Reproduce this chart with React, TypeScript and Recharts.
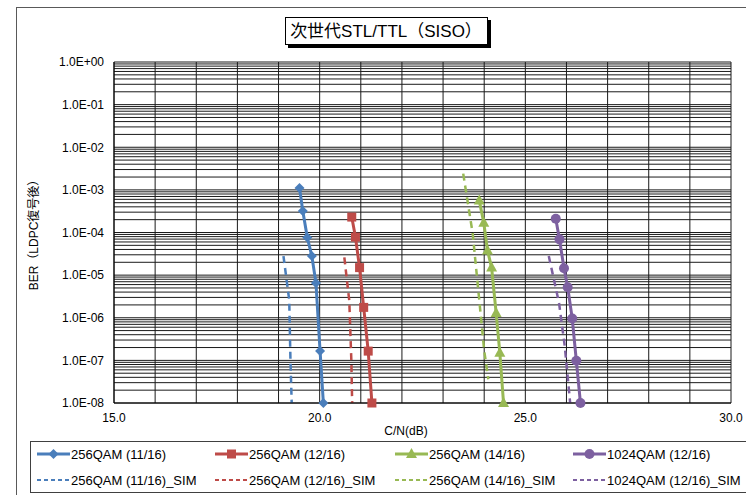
import React from 'react'
import { LineChart, Line, XAxis, YAxis, CartesianGrid } from 'recharts'

const FONT = '"Liberation Sans", Arial, "Noto Sans CJK JP", sans-serif'

// C/N (dB) and BER values per series
const qam256_11_cn = [19.51, 19.59, 19.70, 19.81, 19.91, 20.01, 20.09]
const qam256_11_ber = [1.1e-3, 3.2e-4, 7.6e-5, 2.8e-5, 6.5e-6, 1.65e-7, 1e-8]
const qam256_12_cn = [20.78, 20.87, 20.97, 21.07, 21.18, 21.27]
const qam256_12_ber = [2.3e-4, 7.8e-5, 1.5e-5, 1.75e-6, 1.65e-7, 1e-8]
const qam256_14_cn = [23.88, 23.99, 24.08, 24.18, 24.29, 24.38, 24.47]
const qam256_14_ber = [5.6e-4, 1.7e-4, 3.8e-5, 1.5e-5, 1.3e-6, 1.5e-7, 1e-8]
const qam1024_12_cn = [25.74, 25.83, 25.94, 26.03, 26.14, 26.24, 26.34]
const qam1024_12_ber = [2.1e-4, 6.9e-5, 1.45e-5, 5.2e-6, 9.6e-7, 9.8e-8, 1e-8]

const qam256_11_sim_cn = [19.12, 19.26, 19.29, 19.32]
const qam256_11_sim_ber = [2.8e-5, 2.6e-6, 1e-7, 1e-8]
const qam256_12_sim_cn = [20.60, 20.72, 20.77, 20.79]
const qam256_12_sim_ber = [2.6e-5, 2.5e-6, 1e-7, 1e-8]
const qam256_14_sim_cn = [23.49, 23.72, 23.88, 24.00, 24.10]
const qam256_14_sim_ber = [2.4e-3, 9.5e-5, 2.6e-6, 1.7e-7, 3.6e-8]
const qam1024_12_sim_cn = [25.57, 25.82, 25.96, 26.09]
const qam1024_12_sim_ber = [2.8e-5, 2.2e-6, 2.1e-7, 1e-8]

const xTicks = [15, 16, 17, 18, 19, 20, 21, 22, 23, 24, 25, 26, 27, 28, 29, 30]
const yExponents = [-8, -7, -6, -5, -4, -3, -2, -1, 0]
const yMinorSteps = [2, 3, 4, 5, 6, 7, 8, 9]

const yTicks: number[] = []
yExponents.forEach(e => {
    yTicks.push(Math.pow(10, e))
    if (e < 0) yMinorSteps.forEach(m => yTicks.push(m * Math.pow(10, e)))
})

const BLUE = '#4a7ebb'
const RED = '#be4b48'
const GREEN = '#98b954'
const PURPLE = '#7d60a0'

type Shape = 'diamond' | 'square' | 'triangle' | 'circle'

const series = [
    { name: '256QAM (11/16)', cn: qam256_11_cn, ber: qam256_11_ber, color: BLUE, shape: 'diamond' as Shape, dashed: false },
    { name: '256QAM (12/16)', cn: qam256_12_cn, ber: qam256_12_ber, color: RED, shape: 'square' as Shape, dashed: false },
    { name: '256QAM (14/16)', cn: qam256_14_cn, ber: qam256_14_ber, color: GREEN, shape: 'triangle' as Shape, dashed: false },
    { name: '1024QAM (12/16)', cn: qam1024_12_cn, ber: qam1024_12_ber, color: PURPLE, shape: 'circle' as Shape, dashed: false },
    { name: '256QAM (11/16)_SIM', cn: qam256_11_sim_cn, ber: qam256_11_sim_ber, color: BLUE, shape: null, dashed: true },
    { name: '256QAM (12/16)_SIM', cn: qam256_12_sim_cn, ber: qam256_12_sim_ber, color: RED, shape: null, dashed: true },
    { name: '256QAM (14/16)_SIM', cn: qam256_14_sim_cn, ber: qam256_14_sim_ber, color: GREEN, shape: null, dashed: true },
    { name: '1024QAM (12/16)_SIM', cn: qam1024_12_sim_cn, ber: qam1024_12_sim_ber, color: PURPLE, shape: null, dashed: true },
]

const Marker = ({ shape, cx, cy, color }: { shape: Shape, cx: number, cy: number, color: string }) => {
    if (shape === 'diamond') {
        return <polygon points={`${cx},${cy - 5} ${cx + 5},${cy} ${cx},${cy + 5} ${cx - 5},${cy}`} fill={color} />
    }
    if (shape === 'square') {
        return <rect x={cx - 4.5} y={cy - 4.5} width={9} height={9} fill={color} />
    }
    if (shape === 'triangle') {
        return <polygon points={`${cx},${cy - 6} ${cx + 5.5},${cy + 4} ${cx - 5.5},${cy + 4}`} fill={color} />
    }
    return <circle cx={cx} cy={cy} r={5} fill={color} />
}

const expLabel = (v: number) => {
    const e = Math.round(Math.log10(v))
    if (Math.abs(v - Math.pow(10, e)) > Math.pow(10, e) * 1e-6) return ''
    return `1.0E${e < 0 ? '-' : '+'}${String(Math.abs(e)).padStart(2, '0')}`
}

const legendCols = [37, 215, 395, 573]
const legendRows = [454, 480]

export default function App() {
    return (
        <div style={{ position: 'absolute', left: 0, top: 0, width: 746, height: 495, background: '#fff', fontFamily: FONT }}>
            <div style={{ position: 'absolute', left: 0, top: 0 }}>
                <LineChart width={746} height={495} margin={{ top: 62, right: 15, bottom: 62, left: 14 }}>
                    <CartesianGrid stroke="#1a1a1a" strokeWidth={1} />
                    <XAxis
                        dataKey="cn"
                        type="number"
                        domain={[15, 30]}
                        ticks={xTicks}
                        interval={0}
                        height={30}
                        tickLine={false}
                        tickSize={0}
                        tickMargin={10}
                        axisLine={{ stroke: '#000' }}
                        tickFormatter={(v: number) => (v % 5 === 0 ? v.toFixed(1) : '')}
                        tick={{ fill: '#000', fontSize: 12, fontFamily: FONT }}
                        allowDuplicatedCategory={false}
                    />
                    <YAxis
                        dataKey="ber"
                        type="number"
                        scale="log"
                        domain={[1e-8, 1]}
                        ticks={yTicks}
                        interval={0}
                        width={100}
                        tickLine={false}
                        tickSize={0}
                        tickMargin={10}
                        axisLine={{ stroke: '#000' }}
                        tickFormatter={expLabel}
                        tick={{ fill: '#000', fontSize: 12, fontFamily: FONT }}
                    />
                    {series.map((s, i) => (
                        <Line
                            key={s.name}
                            data={s.cn.map((x, j) => ({ cn: x, ber: s.ber[j] }))}
                            dataKey="ber"
                            type="linear"
                            stroke={s.color}
                            strokeWidth={s.dashed ? 2.5 : 3}
                            strokeDasharray={s.dashed ? '7 5' : undefined}
                            isAnimationActive={false}
                            dot={s.shape ? (p: any) => (
                                <Marker key={`d-${i}-${p.index}`} shape={s.shape as Shape} cx={p.cx} cy={p.cy} color={s.color} />
                            ) : false}
                            activeDot={false}
                        />
                    ))}
                </LineChart>
            </div>
            <svg width={746} height={495} style={{ position: 'absolute', left: 0, top: 0, pointerEvents: 'none' }}>
                <rect x={16.5} y={7.5} width={740} height={500} fill="none" stroke="#595959" />
                <rect x={288} y={20} width={203} height={28} fill="#000" />
                <rect x={285.5} y={17.5} width={202} height={27} fill="#fff" stroke="#000" />
                <text x={386} y={31} textAnchor="middle" dominantBaseline="central" fontSize={17} fill="#000" fontFamily={FONT}>
                    次世代STL/TTL（SISO）
                </text>
                <text
                    x={34}
                    y={232}
                    transform="rotate(-90 34 232)"
                    textAnchor="middle"
                    dominantBaseline="central"
                    fontSize={12}
                    fill="#000"
                    fontFamily={FONT}
                >
                    BER（LDPC復号後）
                </text>
                <text x={406} y={431} textAnchor="middle" dominantBaseline="central" fontSize={12} fill="#000" fontFamily={FONT}>
                    C/N(dB)
                </text>
                <rect x={30.5} y={441.5} width={720} height={51} fill="#fff" stroke="#404040" />
                {series.map((s, i) => {
                    const x = legendCols[i % 4]
                    const y = legendRows[Math.floor(i / 4)]
                    return (
                        <g key={`leg-${i}`}>
                            <line
                                x1={x}
                                x2={x + 33}
                                y1={y}
                                y2={y}
                                stroke={s.color}
                                strokeWidth={s.dashed ? 2 : 3}
                                strokeDasharray={s.dashed ? '4 3' : undefined}
                            />
                            {s.shape && <Marker shape={s.shape as Shape} cx={x + 16.5} cy={y} color={s.color} />}
                            <text x={x + 34} y={y} dominantBaseline="central" fontSize={13} fill="#000" fontFamily={FONT}>
                                {s.name}
                            </text>
                        </g>
                    )
                })}
            </svg>
        </div>
    )
}
